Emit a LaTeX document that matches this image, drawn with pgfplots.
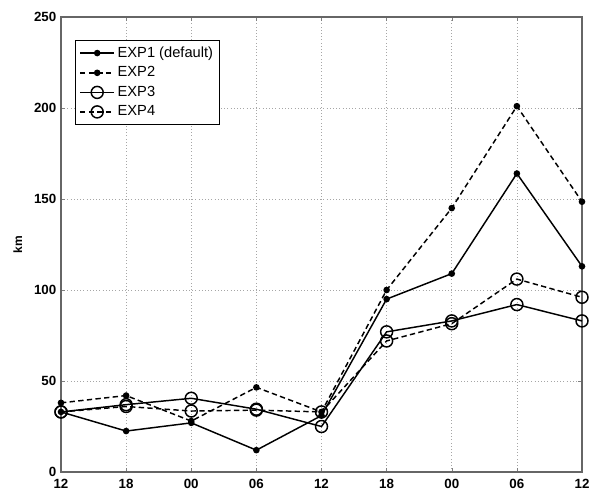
\documentclass[border=0pt]{standalone}
\usepackage{pgfplots}
\pgfplotsset{compat=1.18}
\usepackage{fontspec}
\setmainfont{Liberation Sans}
\usetikzlibrary{calc}
\begin{document}
\begin{tikzpicture}
\begin{axis}[
  name=ax,
  width=390.75pt, height=341.25pt, scale only axis,
  xmin=0, xmax=8, ymin=0, ymax=250,
  xtick={0,1,2,3,4,5,6,7,8},
  xticklabels={12,18,00,06,12,18,00,06,12},
  ytick={0,50,100,150,200,250},
  tick label style={font=\bfseries\fontsize{10}{12}\selectfont},
  xticklabel style={yshift=-1.5pt},
  /pgf/number format/assume math mode=true,
  ylabel={\bfseries km},
  ylabel style={font=\fontsize{9}{11}\selectfont, yshift=2pt},
  grid=major,
  major grid style={dotted, gray!70, line width=0.4pt},
  tick align=inside,
  major tick length=3pt,
  axis line style={gray!80!black, line width=0.8pt},
  legend style={at={(0.027,0.95)}, anchor=north west, font=\fontsize{11}{13}\selectfont,
    draw=black, line width=0.5pt, row sep=1.5pt, inner sep=3pt},
  legend cell align=left,
  legend image code/.code={\draw[#1] (0cm,0cm) -- (0.45cm,0cm) plot coordinates {(0.45cm,0cm)} -- (0.9cm,0cm);},
]
\addplot[black, line width=1.1pt, mark=*, mark size=1.9pt, mark options={solid}]
 coordinates {(0,33) (1,22.5) (2,27) (3,12) (4,31) (5,95) (6,109) (7,164) (8,113)};
\addlegendentry{EXP1 (default)}
\addplot[black, line width=1.1pt, dashed, dash pattern=on 4pt off 2.5pt, mark=*, mark size=1.9pt, mark options={solid}]
 coordinates {(0,38) (1,42) (2,28) (3,46.5) (4,33) (5,100) (6,145) (7,201) (8,148.5)};
\addlegendentry{EXP2}
\addplot[black, line width=1.1pt, mark=o, mark size=4.5pt, mark options={solid}]
 coordinates {(0,33) (1,37) (2,40.5) (3,34.5) (4,25) (5,77) (6,83) (7,92) (8,83)};
\addlegendentry{EXP3}
\addplot[black, line width=1.1pt, dashed, dash pattern=on 4pt off 2.5pt, mark=o, mark size=4.5pt, mark options={solid}]
 coordinates {(0,33) (1,36) (2,33.5) (3,34) (4,33) (5,72) (6,81.5) (7,106) (8,96)};
\addlegendentry{EXP4}
\end{axis}
\pgfresetboundingbox
\path[use as bounding box] ($(ax.south west)+(-45.75pt,-15pt)$) rectangle ($(ax.north east)+(7.5pt,12.75pt)$);
\end{tikzpicture}
\end{document}
